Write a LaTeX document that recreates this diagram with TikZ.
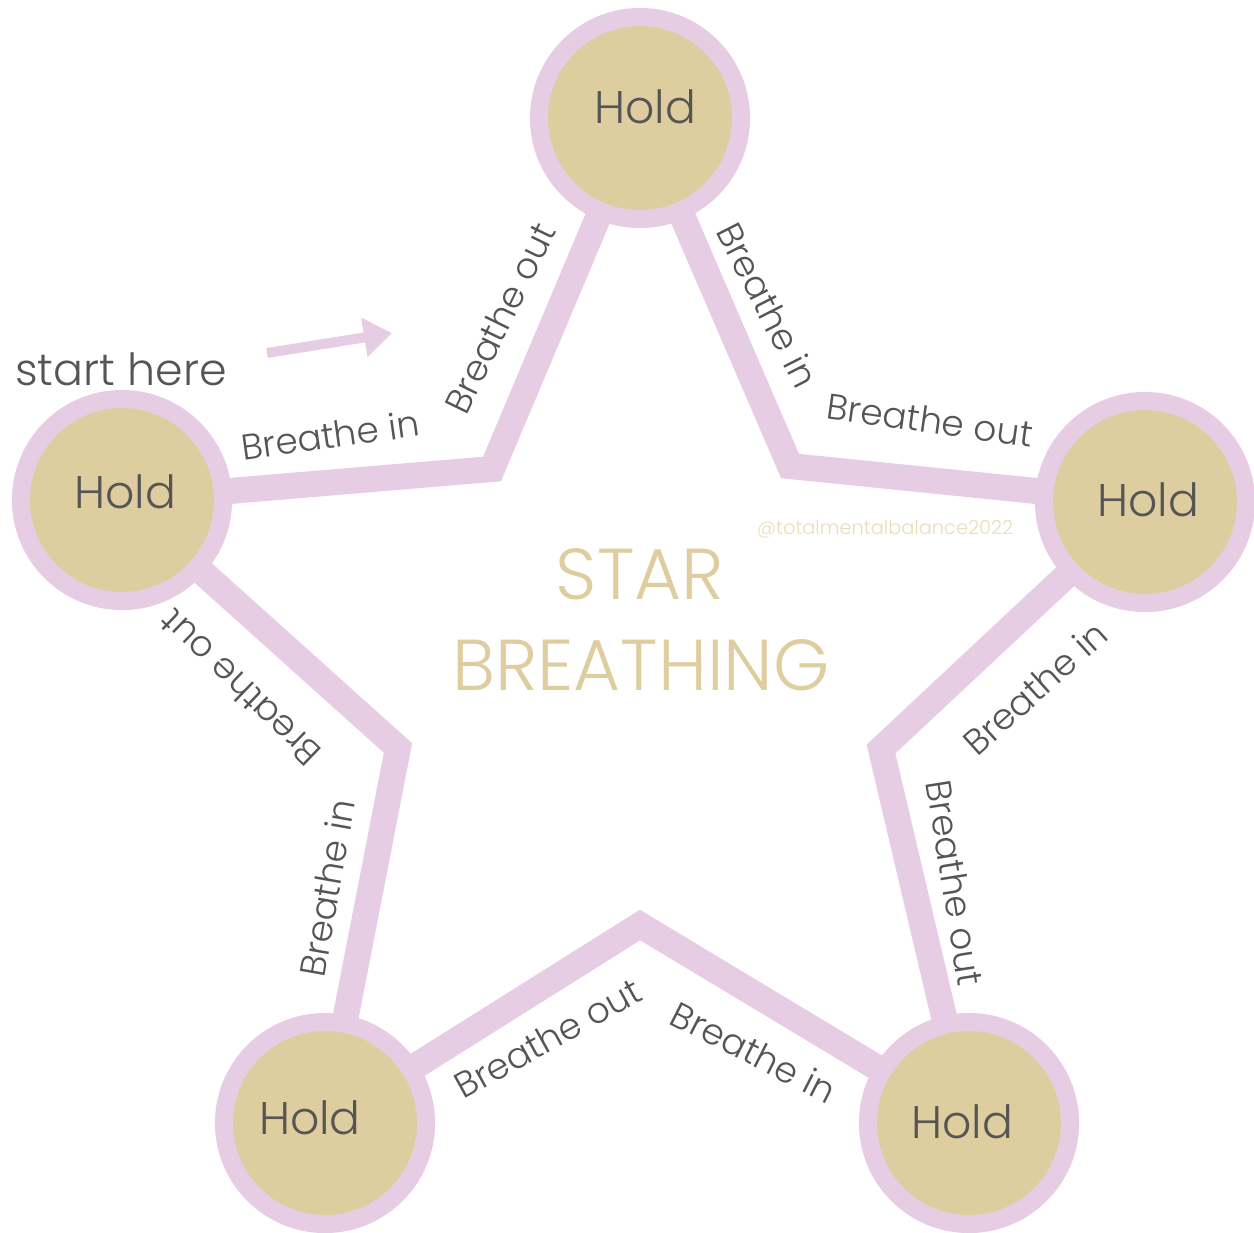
\documentclass[tikz,border=0pt]{standalone}
\usepackage{fontspec}
\IfFontExistsTF{Poppins Light}{\setmainfont{Poppins Light}}{\setmainfont{Poppins}}
\usetikzlibrary{arrows.meta}
\definecolor{lilac}{HTML}{E7CDE4}
\definecolor{sand}{HTML}{DDCD9F}
\definecolor{ink}{HTML}{555555}
\definecolor{tag}{HTML}{E9DDB8}
\tikzstyle{hold} = [circle, fill=sand, draw=lilac, line width=0.18cm, minimum size=2.02cm, inner sep=0pt, outer sep=-0.08cm]
\tikzstyle{holdtext} = [text=ink, font=\fontsize{13}{15}\selectfont]
\tikzstyle{breath} = [text=ink, font=\fontsize{10.2}{12}\selectfont, inner sep=0pt]
\tikzstyle{arm} = [draw=lilac, line width=0.26cm]
\tikzstyle{title} = [text=sand, font=\fontsize{20.5}{22}\selectfont]

\begin{document}
\begin{tikzpicture}[x=0.01cm, y=-0.01cm]
    \useasboundingbox (0,0) rectangle (1254,1232);

    % points of the star
    \node[hold, label={[holdtext, xshift=0.05cm, yshift=0.11cm]center:Hold}] (top) at (640,118) {};
    \node[hold, label={[holdtext, xshift=0.03cm, yshift=0.08cm]center:Hold}] (west) at (122,500) {};
    \node[hold, label={[holdtext, xshift=0.03cm, yshift=0.02cm]center:Hold}] (east) at (1145,502) {};
    \node[hold, label={[holdtext, xshift=-0.15cm, yshift=0.05cm]center:Hold}] (sw) at (325,1123) {};
    \node[hold, label={[holdtext, xshift=-0.07cm, yshift=0.01cm]center:Hold}] (se) at (969,1123) {};

    % inner corners
    \coordinate (dipnw) at (492,469);
    \coordinate (dipne) at (790,466);
    \coordinate (dipe) at (881,749);
    \coordinate (dips) at (640,925);
    \coordinate (dipw) at (398,748);

    \draw[arm] (west) -- (dipnw) -- (top);
    \draw[arm] (top) -- (dipne) -- (east);
    \draw[arm] (east) -- (dipe) -- (se);
    \draw[arm] (se) -- (dips) -- (sw);
    \draw[arm] (sw) -- (dipw) -- (west);

    % breathing labels
    \node[breath, rotate=8] (in1) at (330,435) {Breathe in};
    \node[breath, rotate=64] (out1) at (500,318) {Breathe out};
    \node[breath, rotate=-63] (in2) at (768,305) {Breathe in};
    \node[breath, rotate=-8] (out2) at (930,420) {Breathe out};
    \node[breath, rotate=42] (in3) at (1035,688) {Breathe in};
    \node[breath, rotate=-81] (out3) at (955,883) {Breathe out};
    \node[breath, rotate=-27] (in4) at (754,1052) {Breathe in};
    \node[breath, rotate=29] (out4) at (548,1038) {Breathe out};
    \node[breath, rotate=80] (in5) at (327,888) {Breathe in};
    \node[breath, rotate=136] (out5) at (240,688) {Breathe out};

    % start marker
    \node[text=ink, font=\fontsize{12.6}{15}\selectfont] (start) at (121,369) {start here};
    \coordinate (go) at (267,353);
    \coordinate (goal) at (392,333);
    \draw[lilac, line width=0.1cm, -{Triangle[length=0.28cm, width=0.38cm]}] (go) -- (goal);

    % title
    \node[title] (star) at (640,574) {STAR};
    \node[title] (breathing) at (641,665) {BREATHING};
    \node[text=tag, font=\fontsize{5.5}{6}\selectfont] (handle) at (885,529) {@totalmentalbalance2022};

\end{tikzpicture}
\end{document}
